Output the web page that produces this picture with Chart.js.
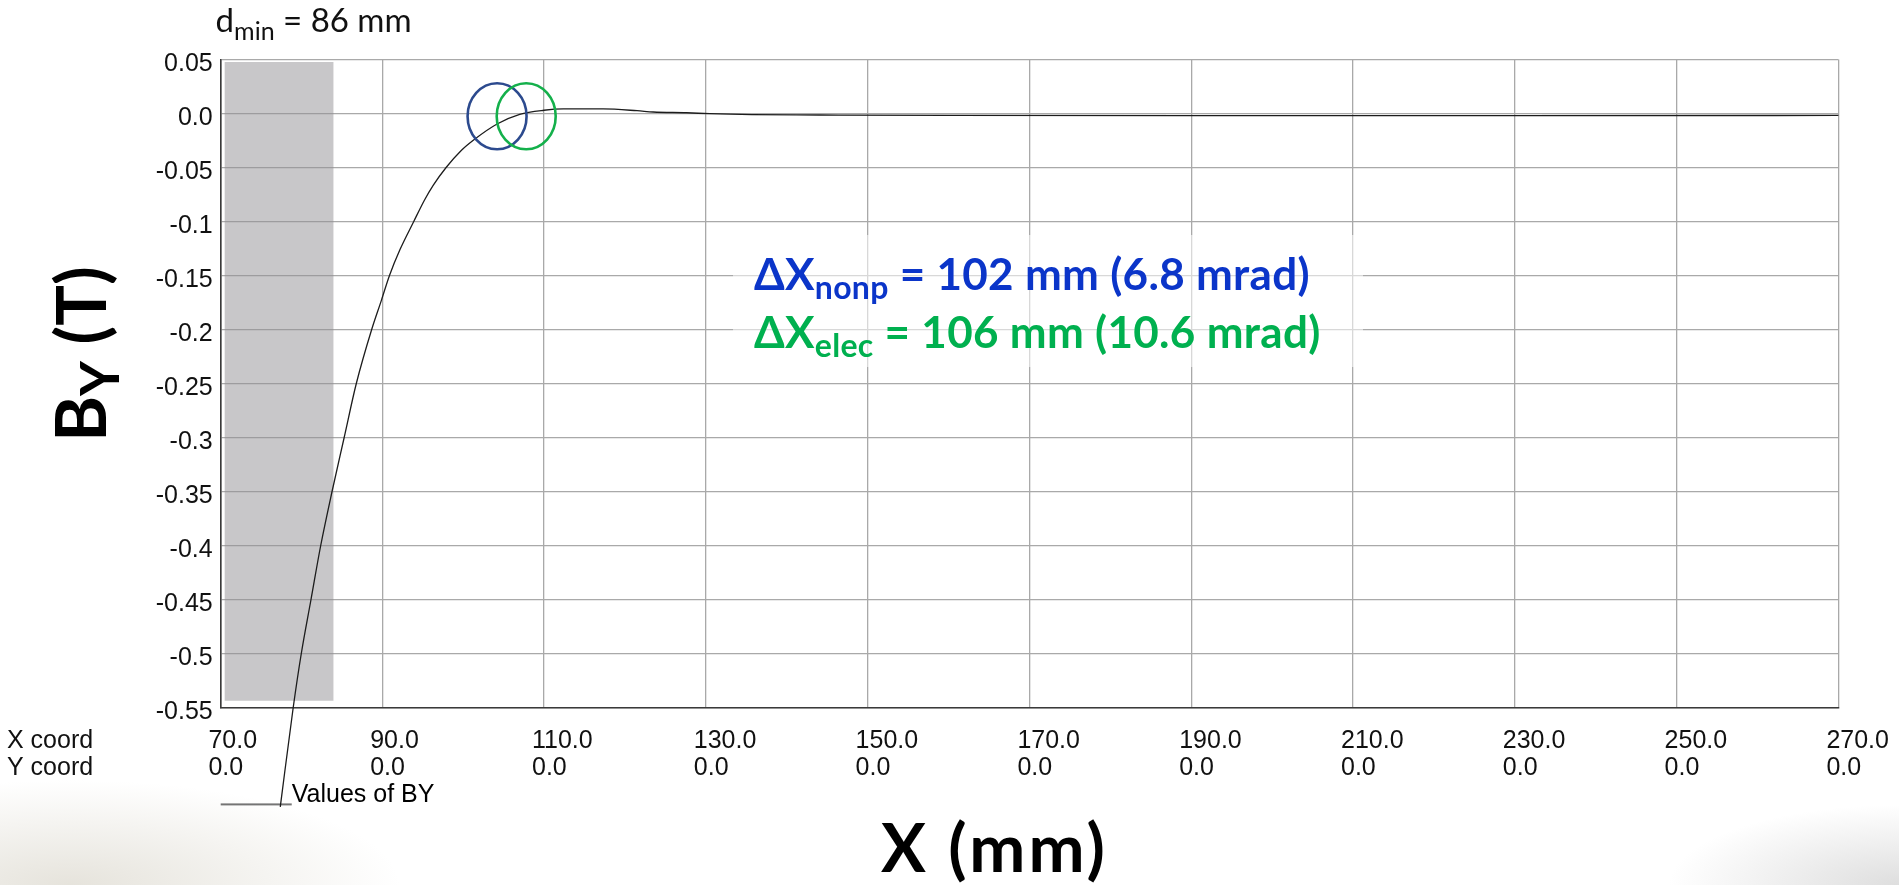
<!DOCTYPE html>
<html>
<head>
<meta charset="utf-8">
<title>B_Y field profile along X</title>
<script src="https://cdn.jsdelivr.net/npm/chart.js@4/dist/chart.umd.min.js"></script>
<style>
  html, body { margin: 0; padding: 0; }
  body {
    width: 1899px; height: 885px; overflow: hidden;
    background:
      radial-gradient(ellipse 330px 105px at 70px 885px, rgba(205,200,185,0.5), rgba(255,255,255,0) 100%),
      radial-gradient(ellipse 230px 80px at 1899px 885px, rgba(195,195,195,0.55), rgba(255,255,255,0) 100%),
      #ffffff;
  }
  canvas { display: block; }
</style>
</head>
<body>
<canvas id="chart" width="1899" height="885"></canvas>
<script>
// B_Y (T) sampled along X (mm)
const posX = [77.4, 79.0, 80.0, 81.2, 82.4, 83.8, 85.3, 86.8, 88.7, 89.9, 90.9, 92.2, 93.9, 95.2,
              96.3, 97.9, 99.8, 101.3, 104.2, 107.0, 110.0, 112.4, 117.3, 121.5, 123.5, 127.6,
              130.5, 135.7, 144.1, 160.0, 190.0, 230.0, 270.0];
const fieldBY = [-0.642, -0.55, -0.50, -0.45, -0.40, -0.35, -0.30, -0.25, -0.20, -0.173, -0.15, -0.126,
                 -0.10, -0.0805, -0.0665, -0.05, -0.034, -0.0245, -0.0097, -0.0008, 0.0030, 0.0042,
                 0.0042, 0.0026, 0.0014, 0.0007, -0.0002, -0.0011, -0.0014, -0.0018, -0.0020,
                 -0.0020, -0.0018];

// Axis ticks and the labels printed under / beside them
const xTicks = [70, 90, 110, 130, 150, 170, 190, 210, 230, 250, 270];
const xCoordLabels = ['70.0', '90.0', '110.0', '130.0', '150.0', '170.0', '190.0', '210.0', '230.0', '250.0', '270.0'];
const yCoordLabels = ['0.0', '0.0', '0.0', '0.0', '0.0', '0.0', '0.0', '0.0', '0.0', '0.0', '0.0'];
const yTicks = [0.05, 0.0, -0.05, -0.1, -0.15, -0.2, -0.25, -0.3, -0.35, -0.4, -0.45, -0.5, -0.55];
const yTickLabels = ['0.05', '0.0', '-0.05', '-0.1', '-0.15', '-0.2', '-0.25', '-0.3', '-0.35', '-0.4', '-0.45', '-0.5', '-0.55'];

// Shaded region: X span (mm) and B_Y span (T)
const bandX = [70.5, 84.0];
const bandBY = [0.0477, -0.5437];

// Circled positions on the curve: X (mm), B_Y (T)
const markX = [104.2, 107.8];
const markBY = [-0.0026, -0.0026];

const markColors = ['#2c4a8e', '#14b04b'];
const tickFont = '"Liberation Sans", Arial, sans-serif';
const titleFont = 'Lato, "Open Sans", "DejaVu Sans", sans-serif';

// legend glyph: a short line sitting on the label's baseline
const legendGlyph = document.createElement('canvas');
legendGlyph.width = 100;
legendGlyph.height = 40;
(function () {
  const g = legendGlyph.getContext('2d');
  g.strokeStyle = '#222';
  g.lineWidth = 1.3;
  g.beginPath();
  g.moveTo(20.6, 28.8);
  g.lineTo(91.9, 28.8);
  g.stroke();
})();

function drawRuns(ctx, x, y, runs, color, spacing) {
  ctx.fillStyle = color;
  ctx.textAlign = 'left';
  ctx.textBaseline = 'alphabetic';
  ctx.letterSpacing = (spacing || 0) + 'px';
  for (const r of runs) {
    ctx.font = r.font;
    ctx.fillText(r.text, x, y + (r.dy || 0));
    x += ctx.measureText(r.text).width;
  }
  ctx.letterSpacing = '0px';
}

const decorations = {
  id: 'decorations',
  afterDatasetsDraw(chart) {
    const { ctx, scales: { x, y } } = chart;
    ctx.save();
    // pale panel under the annotation lines
    ctx.fillStyle = 'rgba(255,255,255,0.55)';
    ctx.fillRect(733, 235, 630, 132);
    // circled positions
    markX.forEach((mx, i) => {
      ctx.beginPath();
      ctx.ellipse(x.getPixelForValue(mx), y.getPixelForValue(markBY[i]), 29.5, 33, 0, 0, Math.PI * 2);
      ctx.strokeStyle = markColors[i];
      ctx.lineWidth = 2.6;
      ctx.stroke();
    });
    ctx.restore();
  },
  afterDraw(chart) {
    const { ctx } = chart;
    ctx.save();

    // row captions for the two-line X tick labels
    ctx.font = '25px ' + tickFont;
    ctx.fillStyle = '#111';
    ctx.textAlign = 'left';
    ctx.textBaseline = 'middle';
    ctx.fillText('X coord', 7, 740.7);
    ctx.fillText('Y coord', 7, 768.3);

    // d_min note
    drawRuns(ctx, 215.6, 32.3, [
      { text: 'd', font: '33px ' + titleFont },
      { text: 'min', font: '25px ' + titleFont, dy: 8 },
      { text: ' = 86 mm', font: '33px ' + titleFont }
    ], '#111');

    // annotation lines
    drawRuns(ctx, 754, 289.5, [
      { text: '\u0394X', font: 'bold 44px ' + titleFont },
      { text: 'nonp', font: 'bold 32px ' + titleFont, dy: 9 },
      { text: ' = 102 mm (6.8 mrad)', font: 'bold 44px ' + titleFont }
    ], '#0b35c9', 0.3);
    drawRuns(ctx, 754, 347.5, [
      { text: '\u0394X', font: 'bold 44px ' + titleFont },
      { text: 'elec', font: 'bold 32px ' + titleFont, dy: 9 },
      { text: ' = 106 mm (10.6 mrad)', font: 'bold 44px ' + titleFont }
    ], '#00b04f', 0.3);

    // X axis title
    drawRuns(ctx, 881, 872, [{ text: 'X (mm)', font: 'bold 67px ' + titleFont }], '#000', 3);

    // Y axis title, rotated
    ctx.translate(106, 442);
    ctx.rotate(-Math.PI / 2);
    drawRuns(ctx, 0, 0, [
      { text: 'B', font: 'bold 70px ' + titleFont },
      { text: 'Y', font: 'bold 54px ' + titleFont, dy: 13 },
      { text: ' (T)', font: 'bold 68px ' + titleFont }
    ], '#000', 0);

    ctx.restore();
  }
};

const curveData = posX.map((v, i) => ({ x: v, y: fieldBY[i] }));
const bandData = bandX.map(v => ({ x: v, y: bandBY[0] }));

new Chart(document.getElementById('chart'), {
  type: 'line',
  data: {
    datasets: [
      {
        label: 'Values of BY',
        data: curveData,
        borderColor: '#1c1c1c',
        borderWidth: 1.3,
        pointRadius: 0,
        fill: false,
        cubicInterpolationMode: 'monotone',
        clip: false,
        order: 0
      },
      {
        label: 'shade',
        data: bandData,
        borderWidth: 0,
        borderColor: 'rgba(0,0,0,0)',
        backgroundColor: 'rgba(145,143,147,0.5)',
        pointRadius: 0,
        fill: { value: bandBY[1] },
        order: 1
      }
    ]
  },
  options: {
    responsive: false,
    animation: false,
    devicePixelRatio: 1,
    events: [],
    layout: { padding: { top: 59.5, right: 60.6, bottom: 67, left: 0 } },
    scales: {
      x: {
        type: 'linear',
        min: 70,
        max: 270,
        afterBuildTicks: s => { s.ticks = xTicks.map(v => ({ value: v })); },
        afterFit: s => { s.height = 75.5; s.paddingLeft = 0; s.paddingRight = 0; },
        grid: { color: '#a9a9a9', lineWidth: 1.3, drawTicks: false },
        border: { color: '#3a3a3a', width: 1.6 },
        ticks: {
          autoSkip: false,
          maxRotation: 0,
          align: 'start',
          labelOffset: -12,
          padding: 19.4,
          color: '#111',
          font: { family: tickFont, size: 25, lineHeight: 1.104 },
          callback: (v, i) => [xCoordLabels[i], yCoordLabels[i]]
        }
      },
      y: {
        type: 'linear',
        min: -0.55,
        max: 0.05,
        afterBuildTicks: s => { s.ticks = yTicks.map(v => ({ value: v })); },
        afterFit: s => { s.width = 220.4; s.paddingTop = 0; s.paddingBottom = 0; },
        grid: { color: '#a9a9a9', lineWidth: 1.3, drawTicks: false },
        border: { color: '#3a3a3a', width: 1.6 },
        ticks: {
          autoSkip: false,
          padding: 7.7,
          labelOffset: 5,
          color: '#111',
          font: { family: tickFont, size: 25 },
          callback: (v, i) => yTickLabels[i]
        }
      }
    },
    plugins: {
      tooltip: { enabled: false },
      title: { display: false },
      legend: {
        display: true,
        position: 'bottom',
        align: 'start',
        fullSize: false,
        labels: {
          usePointStyle: true,
          pointStyleWidth: 58.8,
          padding: 0,
          color: '#111',
          font: { family: tickFont, size: 25 },
          generateLabels: () => [{
            text: 'Values of BY',
            pointStyle: legendGlyph,
            fillStyle: 'rgba(0,0,0,0)',
            strokeStyle: 'rgba(0,0,0,0)',
            lineWidth: 0,
            hidden: false,
            datasetIndex: 0
          }]
        }
      }
    }
  },
  plugins: [decorations]
});
</script>
</body>
</html>
